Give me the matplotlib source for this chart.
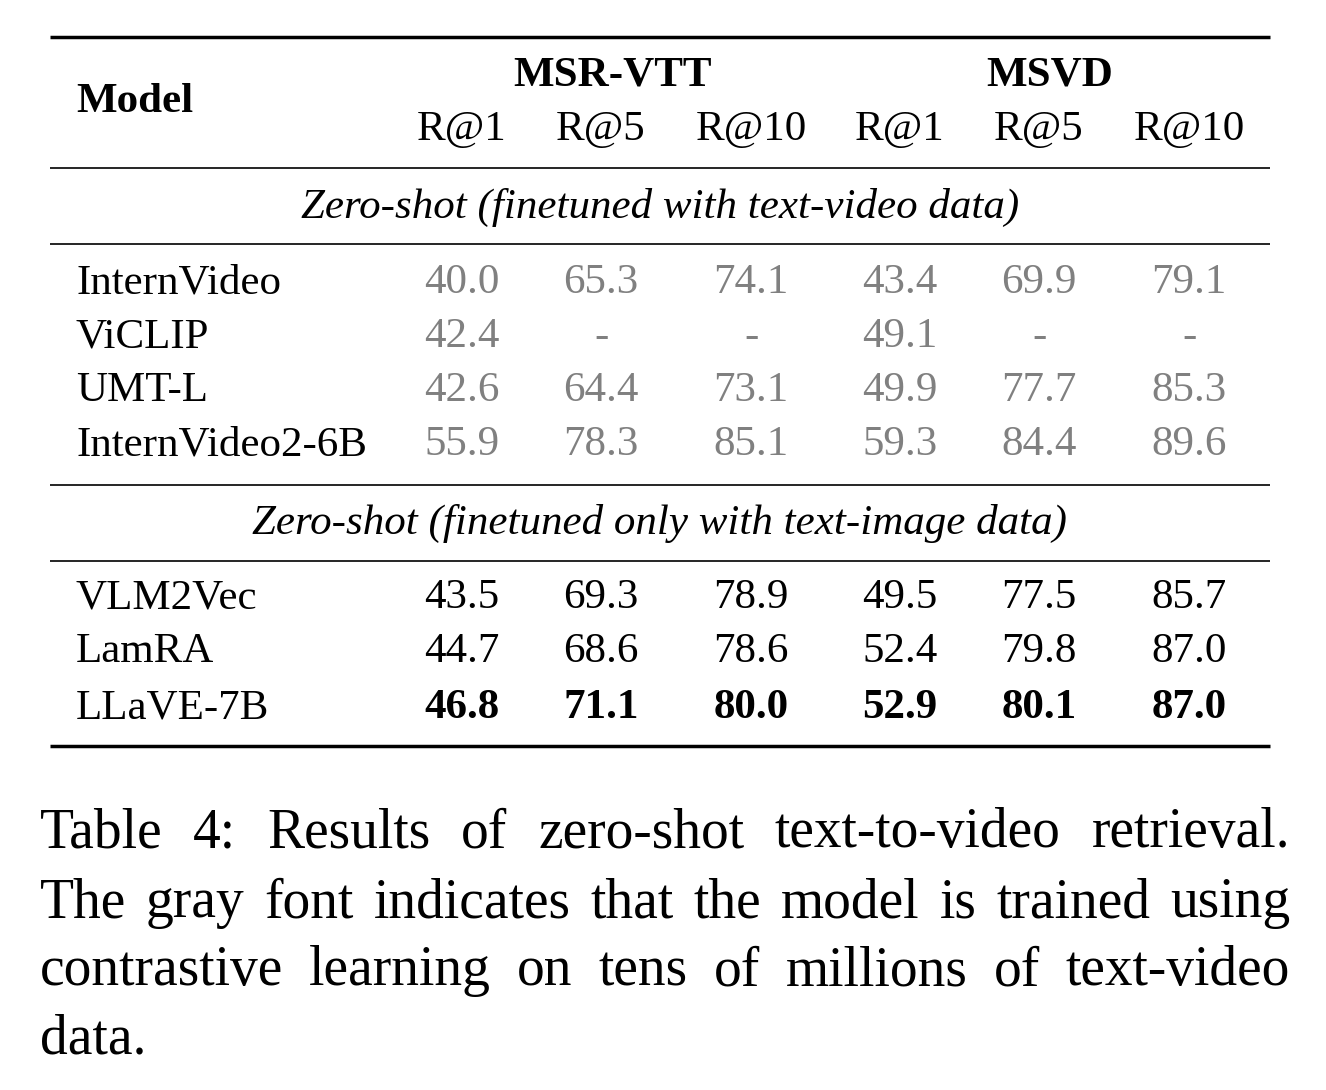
import matplotlib
matplotlib.use("Agg")
import matplotlib.pyplot as plt

models_a = ["InternVideo", "ViCLIP", "UMT-L", "InternVideo2-6B"]
vals_a = [["40.0", "65.3", "74.1", "43.4", "69.9", "79.1"],
          ["42.4", "-", "-", "49.1", "-", "-"],
          ["42.6", "64.4", "73.1", "49.9", "77.7", "85.3"],
          ["55.9", "78.3", "85.1", "59.3", "84.4", "89.6"]]
models_b = ["VLM2Vec", "LamRA", "LLaVE-7B"]
vals_b = [["43.5", "69.3", "78.9", "49.5", "77.5", "85.7"],
          ["44.7", "68.6", "78.6", "52.4", "79.8", "87.0"],
          ["46.8", "71.1", "80.0", "52.9", "80.1", "87.0"]]
metrics = ["R@1", "R@5", "R@10", "R@1", "R@5", "R@10"]
caption = ["Table 4:  Results of zero-shot text-to-video retrieval.",
           "The gray font indicates that the model is trained using",
           "contrastive learning on tens of millions of text-video",
           "data."]

W, H = 1326, 1090
fig = plt.figure(figsize=(W / 100, H / 100), dpi=100)
ax = fig.add_axes([0, 0, 1, 1])
ax.set_xlim(0, W)
ax.set_ylim(H, 0)
ax.axis("off")

font = "Liberation Serif"
fs = 31
colx = [462, 601, 751, 900, 1039, 1189]

def txt(x, y, s, **kw):
    kw.setdefault("fontsize", fs)
    kw.setdefault("ha", "center")
    return ax.text(x, y, s, va="center", family=font, **kw)

for y, lw in [(37, 2.5), (168, 1.2), (244, 1.2), (485, 1.2), (561, 1.2), (746, 2.5)]:
    ax.plot([50, 1270], [y, y], color="black", lw=lw, solid_capstyle="butt")

txt(76, 102, "Model", ha="left", weight="bold")
txt(612, 75, "MSR-VTT", weight="bold")
txt(1050, 75, "MSVD", weight="bold")
for x, m in zip(colx, metrics):
    txt(x, 130, m)

txt(660, 207, "Zero-shot (finetuned with text-video data)", style="italic")
txt(660, 523, "Zero-shot (finetuned only with text-image data)", style="italic")

for y, name, row in zip([283, 337, 391, 445], models_a, vals_a):
    txt(76, y, name, ha="left")
    for x, v in zip(colx, row):
        txt(x, y, v, color="#808080")

for i, (y, name, row) in enumerate(zip([598, 652, 708], models_b, vals_b)):
    txt(76, y, name, ha="left")
    for x, v in zip(colx, row):
        txt(x, y, v, weight="bold" if i == 2 else "normal")

# justified caption
fig.canvas.draw()
r = fig.canvas.get_renderer()
x0, x1 = 40, 1290
cfs = 40
for k, (y, line) in enumerate(zip([833, 903, 971, 1040], caption)):
    if k == len(caption) - 1:
        txt(x0, y, line, ha="left", fontsize=cfs)
        continue
    words = [w for w in line.split(" ") if w]
    ts = [txt(0, y, w, ha="left", fontsize=cfs) for w in words]
    widths = [t.get_window_extent(r).width for t in ts]
    gap = (x1 - x0 - sum(widths)) / (len(words) - 1)
    x = x0
    for t, w in zip(ts, widths):
        t.set_x(x)
        x += w + gap

fig.savefig("out.png", dpi=100)
